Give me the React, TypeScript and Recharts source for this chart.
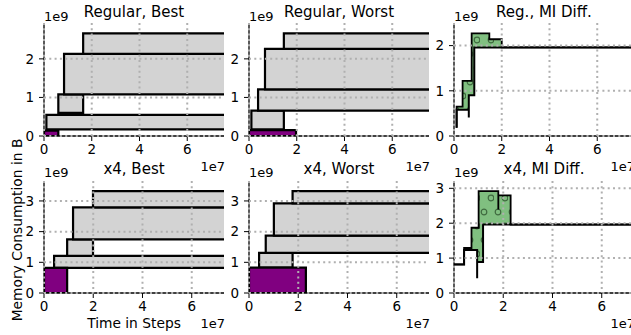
import React from "react";
import {
  ComposedChart,
  XAxis,
  YAxis,
  CartesianGrid,
  ReferenceArea,
  Line,
  Area,
} from "recharts";

// boxes: [start step, end step, low bytes, high bytes]
type Box = [number, number, number, number];
type Pt = [number, number];

const END = 1e8; // runs past the right edge

const xTicks = [0, 2e7, 4e7, 6e7];
const yTicksTop = [0, 1e9, 2e9];
const yTicksBottom = [0, 1e9, 2e9, 3e9];

const regBestLive: Box[] = [[0, 0.6e7, 0, 0.14e9]];
const regBestBoxes: Box[] = [
  [0.1e7, END, 0.17e9, 0.55e9],
  [0.6e7, 1.64e7, 0.6e9, 1.08e9],
  [0.84e7, END, 1.08e9, 2.13e9],
  [1.64e7, END, 2.13e9, 2.66e9],
];

const regWorstLive: Box[] = [[0, 1.97e7, 0, 0.15e9]];
const regWorstBoxes: Box[] = [
  [0.1e7, 1.46e7, 0.17e9, 0.66e9],
  [0.38e7, END, 0.66e9, 1.21e9],
  [0.67e7, END, 1.21e9, 2.26e9],
  [1.46e7, END, 2.26e9, 2.66e9],
];

const x4BestLive: Box[] = [[0, 0.94e7, 0, 0.82e9]];
const x4BestBoxes: Box[] = [
  [0.41e7, END, 0.82e9, 1.21e9],
  [0.94e7, 1.99e7, 1.21e9, 1.75e9],
  [1.18e7, END, 1.75e9, 2.79e9],
  [1.99e7, END, 2.79e9, 3.32e9],
];

const x4WorstLive: Box[] = [[0, 2.31e7, 0, 0.83e9]];
const x4WorstBoxes: Box[] = [
  [0.41e7, 1.77e7, 0.83e9, 1.31e9],
  [0.68e7, END, 1.31e9, 1.87e9],
  [1.01e7, END, 1.87e9, 2.92e9],
  [1.77e7, END, 2.92e9, 3.32e9],
];

// MI diff: two step curves, filled between
const regMiLow: Pt[] = [
  [0.11e7, 0.18e9],
  [0.11e7, 0.58e9],
  [0.62e7, 0.41e9],
  [0.62e7, 0.9e9],
  [0.85e7, 1.96e9],
  [END, 1.96e9],
];
const regMiHigh: Pt[] = [
  [0.11e7, 0.18e9],
  [0.11e7, 0.65e9],
  [0.36e7, 1.22e9],
  [0.74e7, 2.27e9],
  [1.48e7, 2.14e9],
  [2.0e7, 1.96e9],
  [END, 1.96e9],
];

const x4MiLow: Pt[] = [
  [0, 0.82e9],
  [0.41e7, 1.23e9],
  [0.94e7, 0.42e9],
  [0.94e7, 0.89e9],
  [1.18e7, 1.96e9],
  [END, 1.96e9],
];
const x4MiHigh: Pt[] = [
  [0, 0.82e9],
  [0.41e7, 1.29e9],
  [0.71e7, 1.87e9],
  [1.0e7, 2.92e9],
  [1.8e7, 2.39e9],
  [1.8e7, 2.8e9],
  [2.3e7, 1.96e9],
  [END, 1.96e9],
];

const FONT = "DejaVu Sans";
const GRAY = "#d3d3d3";
const PURPLE = "#800080";

const stepAt = (pts: Pt[], x: number) => {
  let v = pts[0][1];
  for (const [px, py] of pts) if (px <= x) v = py;
  return v;
};

const band = (lo: Pt[], hi: Pt[]) => {
  const xs = Array.from(new Set([...lo, ...hi].map((p) => p[0]))).sort((a, b) => a - b);
  return xs.map((x) => ({ x, range: [stepAt(lo, x), stepAt(hi, x)] }));
};

const toRows = (pts: Pt[]) => pts.map(([x, y]) => ({ x, y }));

const drawBoxes = (list: Box[], fill: string, key: string) =>
  list.map(([x1, x2, y1, y2], i) => (
    <ReferenceArea
      key={key + i}
      x1={x1}
      x2={x2}
      y1={y1}
      y2={y2}
      fill={fill}
      fillOpacity={1}
      stroke="#000"
      strokeWidth={2.2}
      ifOverflow="hidden"
    />
  ));

const drawMi = (lo: Pt[], hi: Pt[], id: string) => [
  <defs key="defs">
    <pattern id={id} patternUnits="userSpaceOnUse" width={14} height={28}>
      <rect width={14} height={28} fill="#80bf80" />
      <circle cx={4} cy={5} r={2.8} fill="none" stroke="#3f6b3f" strokeWidth={1.2} />
      <circle cx={11} cy={19} r={2.8} fill="none" stroke="#3f6b3f" strokeWidth={1.2} />
    </pattern>
  </defs>,
  <Area
    key="band"
    data={band(lo, hi)}
    dataKey="range"
    type="stepAfter"
    fill={`url(#${id})`}
    fillOpacity={1}
    stroke="none"
    isAnimationActive={false}
  />,
  <Line
    key="hi"
    data={toRows(hi)}
    dataKey="y"
    type="stepAfter"
    stroke="#000"
    strokeWidth={1.8}
    dot={false}
    isAnimationActive={false}
  />,
  <Line
    key="lo"
    data={toRows(lo)}
    dataKey="y"
    type="stepAfter"
    stroke="#000"
    strokeWidth={2}
    dot={false}
    isAnimationActive={false}
  />,
];

const W = 180;
const tickStyle = { fontSize: 13.5, fill: "#000", fontFamily: FONT };

function Panel({
  left,
  top,
  height,
  xMax,
  yMax,
  yTicks,
  children,
}: {
  left: number;
  top: number;
  height: number;
  xMax: number;
  yMax: number;
  yTicks: number[];
  children: React.ReactNode;
}) {
  return (
    <div style={{ position: "absolute", left: left - 30, top: top - 2 }}>
      <ComposedChart
        width={30 + W + 2}
        height={2 + height + 26}
        margin={{ top: 2, right: 2, bottom: 0, left: 0 }}
      >
        <XAxis
          dataKey="x"
          type="number"
          domain={[0, xMax]}
          ticks={xTicks}
          interval={0}
          allowDataOverflow
          tickFormatter={(v: number) => String(v / 1e7)}
          tick={tickStyle}
          tickSize={5}
          tickMargin={3}
          height={26}
          axisLine={{ stroke: "#000", strokeWidth: 1.3 }}
          tickLine={{ stroke: "#000", strokeWidth: 1 }}
        />
        <YAxis
          type="number"
          domain={[0, yMax]}
          ticks={yTicks}
          interval={0}
          allowDataOverflow
          tickFormatter={(v: number) => String(v / 1e9)}
          tick={tickStyle}
          tickSize={5}
          tickMargin={5}
          width={30}
          axisLine={{ stroke: "#000", strokeWidth: 1.3 }}
          tickLine={{ stroke: "#000", strokeWidth: 1 }}
        />
        <XAxis
          xAxisId="top"
          orientation="top"
          type="number"
          domain={[0, xMax]}
          height={0}
          tick={false}
          tickLine={false}
          axisLine={{ stroke: "#000", strokeWidth: 1.3 }}
        />
        <YAxis
          yAxisId="right"
          orientation="right"
          type="number"
          domain={[0, yMax]}
          width={0}
          tick={false}
          tickLine={false}
          axisLine={{ stroke: "#000", strokeWidth: 1.3 }}
        />
        {children}
        <CartesianGrid
          stroke="#b0b0b0"
          strokeWidth={2}
          strokeDasharray="2 3.3"
          horizontalValues={yTicks}
          verticalValues={xTicks}
          zIndex={1500}
        />
      </ComposedChart>
    </div>
  );
}

const cols = [44, 249, 454];
const rows = [
  { top: 23, height: 113, xMax: 7.54e7 },
  { top: 181, height: 112, xMax: 7.31e7 },
];

const titles = [
  ["Regular, Best", "Regular, Worst", "Reg., MI Diff."],
  ["x4, Best", "x4, Worst", "x4, MI Diff."],
];

export default function App() {
  return (
    <div
      style={{
        position: "absolute",
        left: 0,
        top: 0,
        width: 631,
        height: 335,
        overflow: "hidden",
        background: "#fff",
      }}
    >
      <Panel left={cols[0]} top={rows[0].top} height={rows[0].height} xMax={rows[0].xMax} yMax={2.93e9} yTicks={yTicksTop}>
        {drawBoxes(regBestBoxes, GRAY, "g")}
        {drawBoxes(regBestLive, PURPLE, "p")}
      </Panel>
      <Panel left={cols[1]} top={rows[0].top} height={rows[0].height} xMax={rows[0].xMax} yMax={2.93e9} yTicks={yTicksTop}>
        {drawBoxes(regWorstBoxes, GRAY, "g")}
        {drawBoxes(regWorstLive, PURPLE, "p")}
      </Panel>
      <Panel left={cols[2]} top={rows[0].top} height={rows[0].height} xMax={rows[0].xMax} yMax={2.5e9} yTicks={yTicksTop}>
        {drawMi(regMiLow, regMiHigh, "dotsReg")}
      </Panel>
      <Panel left={cols[0]} top={rows[1].top} height={rows[1].height} xMax={rows[1].xMax} yMax={3.65e9} yTicks={yTicksBottom}>
        {drawBoxes(x4BestBoxes, GRAY, "g")}
        {drawBoxes(x4BestLive, PURPLE, "p")}
      </Panel>
      <Panel left={cols[1]} top={rows[1].top} height={rows[1].height} xMax={rows[1].xMax} yMax={3.65e9} yTicks={yTicksBottom}>
        {drawBoxes(x4WorstBoxes, GRAY, "g")}
        {drawBoxes(x4WorstLive, PURPLE, "p")}
      </Panel>
      <Panel left={cols[2]} top={rows[1].top} height={rows[1].height} xMax={rows[1].xMax} yMax={3.21e9} yTicks={yTicksBottom}>
        {drawMi(x4MiLow, x4MiHigh, "dotsX4")}
      </Panel>
      <svg
        width={631}
        height={335}
        style={{ position: "absolute", left: 0, top: 0, pointerEvents: "none" }}
        fontFamily={FONT}
      >
        {titles.map((row, r) =>
          row.map((t, c) => (
            <g key={t}>
              <text x={cols[c] + W / 2} y={r === 0 ? 17 : 174} fontSize={15} textAnchor="middle">
                {t}
              </text>
              <text x={cols[c]} y={r === 0 ? 21 : 177} fontSize={13}>
                1e9
              </text>
              <text x={cols[c] + W + 1} y={r === 0 ? 171 : 328} fontSize={13} textAnchor="end">
                1e7
              </text>
            </g>
          ))
        )}
        <text x={cols[0] + W / 2} y={328} fontSize={13.8} textAnchor="middle">
          Time in Steps
        </text>
        <text
          transform="translate(21.5,230) rotate(-90)"
          fontSize={13.8}
          textAnchor="middle"
        >
          Memory Consumption in B
        </text>
      </svg>
    </div>
  );
}
